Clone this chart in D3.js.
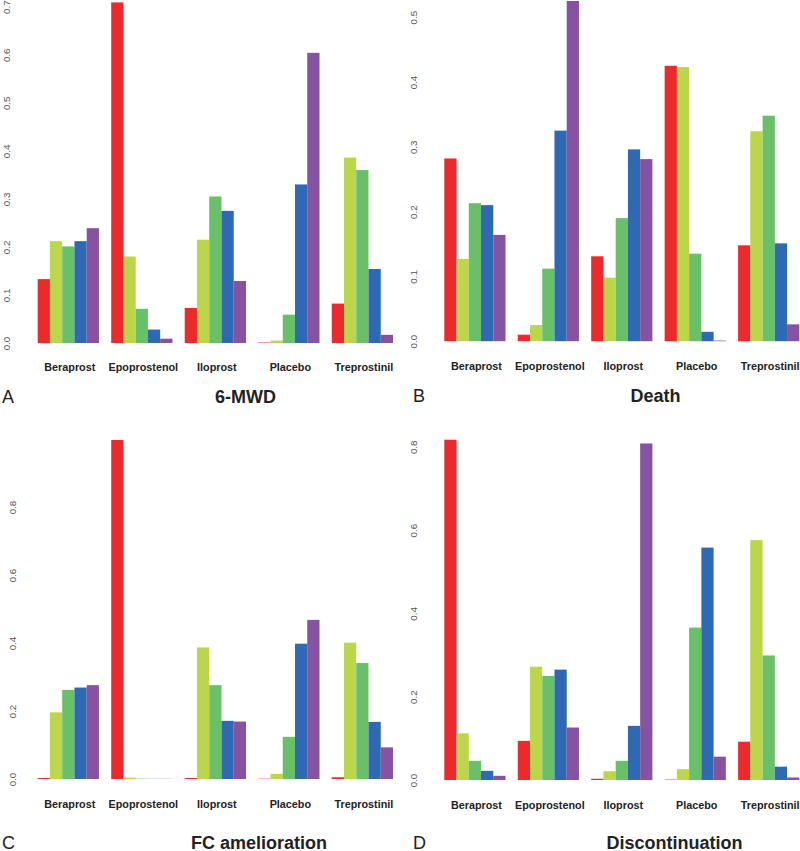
<!DOCTYPE html>
<html>
<head>
<meta charset="utf-8">
<script src="https://cdn.jsdelivr.net/npm/d3@7"></script>
<style>
  body { margin: 0; background: #fff; }
  svg { display: block; font-family: "Liberation Sans", Arial, Helvetica, sans-serif; }
</style>
</head>
<body>
<div id="chart"></div>
<script>
"use strict";

var drugs = ["Beraprost", "Epoprostenol", "Iloprost", "Placebo", "Treprostinil"];
var ranks = [1, 2, 3, 4, 5];
var rankColors = ["#ec2a2c", "#bcd64c", "#6abf69", "#3069b3", "#8553a1"];

// rank probabilities, one row per drug (rank 1..5)
var mwdValues = [
  [0.133, 0.212, 0.201, 0.212, 0.239],
  [0.709, 0.180, 0.071, 0.028, 0.009],
  [0.073, 0.215, 0.305, 0.275, 0.129],
  [0.001, 0.005, 0.059, 0.330, 0.604],
  [0.082, 0.386, 0.360, 0.154, 0.017]
];
var deathValues = [
  [0.282, 0.127, 0.213, 0.210, 0.164],
  [0.010, 0.025, 0.112, 0.325, 0.525],
  [0.131, 0.098, 0.190, 0.296, 0.281],
  [0.425, 0.423, 0.135, 0.0145, 0.001],
  [0.148, 0.324, 0.348, 0.151, 0.026]
];
var fcValues = [
  [0.003, 0.196, 0.262, 0.269, 0.276],
  [0.997, 0.004, 0.001, 0.0005, 0.0005],
  [0.003, 0.387, 0.276, 0.171, 0.169],
  [0.001, 0.015, 0.124, 0.398, 0.468],
  [0.005, 0.401, 0.341, 0.168, 0.093]
];
var discValues = [
  [0.817, 0.112, 0.046, 0.022, 0.010],
  [0.094, 0.272, 0.250, 0.265, 0.126],
  [0.003, 0.021, 0.046, 0.130, 0.808],
  [0.001, 0.026, 0.366, 0.558, 0.056],
  [0.092, 0.576, 0.299, 0.032, 0.006]
];

var mwdTicks = [0, 0.1, 0.2, 0.3, 0.4, 0.5, 0.6, 0.7];
var deathTicks = [0, 0.1, 0.2, 0.3, 0.4, 0.5];
var fcTicks = [0, 0.2, 0.4, 0.6, 0.8];
var discTicks = [0, 0.2, 0.4, 0.6, 0.8];

var svg = d3.select("#chart").append("svg")
    .attr("width", 800)
    .attr("height", 851);

// panel layout (pixel geometry of each plot)
var panels = [
  { letter: "A", title: "6-MWD", values: mwdValues, ticks: mwdTicks,
    x0: 37.7, x1: 393, base: 343, top: 6.7, tickX: 6,
    labY: 370.5, letX: 2, titleX: 245.5, titleY: 402.5 },
  { letter: "B", title: "Death", values: deathValues, ticks: deathTicks,
    x0: 444.3, x1: 799.3, base: 341.2, top: 17.2, tickX: 413,
    labY: 369.5, letX: 413, titleX: 655.5, titleY: 402 },
  { letter: "C", title: "FC amelioration", values: fcValues, ticks: fcTicks,
    x0: 37.7, x1: 393, base: 779, top: 507, tickX: 12,
    labY: 808, letX: 2, titleX: 259, titleY: 848.5 },
  { letter: "D", title: "Discontinuation", values: discValues, ticks: discTicks,
    x0: 444.3, x1: 799.3, base: 780, top: 446.8, tickX: 413,
    labY: 809, letX: 413, titleX: 674.5, titleY: 848.5 }
];

panels.forEach(function (p) {
  var g = svg.append("g");
  var maxTick = p.ticks[p.ticks.length - 1];

  var x = d3.scaleBand()
      .domain(drugs)
      .range([p.x0, p.x1])
      .paddingInner(1 / 6)
      .paddingOuter(0);
  var xInner = d3.scaleBand()
      .domain(ranks)
      .range([0, x.bandwidth()]);
  var y = d3.scaleLinear()
      .domain([0, maxTick])
      .range([p.base, p.top]);

  var groups = g.selectAll(".grp")
      .data(drugs)
      .enter()
      .append("g")
      .attr("transform", function (d) { return "translate(" + x(d) + ",0)"; });

  groups.selectAll("rect")
      .data(function (d, i) { return p.values[i]; })
      .enter()
      .append("rect")
      .attr("x", function (v, j) { return xInner(ranks[j]); })
      .attr("width", xInner.bandwidth())
      .attr("y", function (v) { return y(v); })
      .attr("height", function (v) { return y(0) - y(v); })
      .attr("fill", function (v, j) { return rankColors[j]; });

  // y axis: labels only, rotated like R's default
  var axis = g.append("g")
      .attr("transform", "translate(" + p.tickX + ",0)")
      .call(d3.axisLeft(y).tickValues(p.ticks).tickSize(0).tickFormat(d3.format(".1f")));
  axis.select(".domain").remove();
  axis.selectAll("text")
      .attr("x", 0)
      .attr("dy", null)
      .attr("transform", "rotate(-90)")
      .attr("text-anchor", "middle")
      .attr("dominant-baseline", "central")
      .attr("fill", "#555")
      .style("font-size", "9.8px")
      .style("font-family", "'Liberation Sans', Arial, sans-serif");

  // category labels
  g.selectAll(".cat")
      .data(drugs)
      .enter()
      .append("text")
      .attr("x", function (d) { return x(d) + x.bandwidth() / 2 + 1.5; })
      .attr("y", p.labY)
      .attr("text-anchor", "middle")
      .style("font-size", "10.8px")
      .style("font-weight", "bold")
      .attr("fill", "#222")
      .text(function (d) { return d; });

  g.append("text")
      .attr("x", p.letX)
      .attr("y", p.titleY)
      .style("font-size", "18px")
      .attr("fill", "#222")
      .text(p.letter);

  g.append("text")
      .attr("x", p.titleX)
      .attr("y", p.titleY)
      .attr("text-anchor", "middle")
      .style("font-size", "18px")
      .style("font-weight", "bold")
      .attr("fill", "#222")
      .text(p.title);
});
</script>
</body>
</html>
